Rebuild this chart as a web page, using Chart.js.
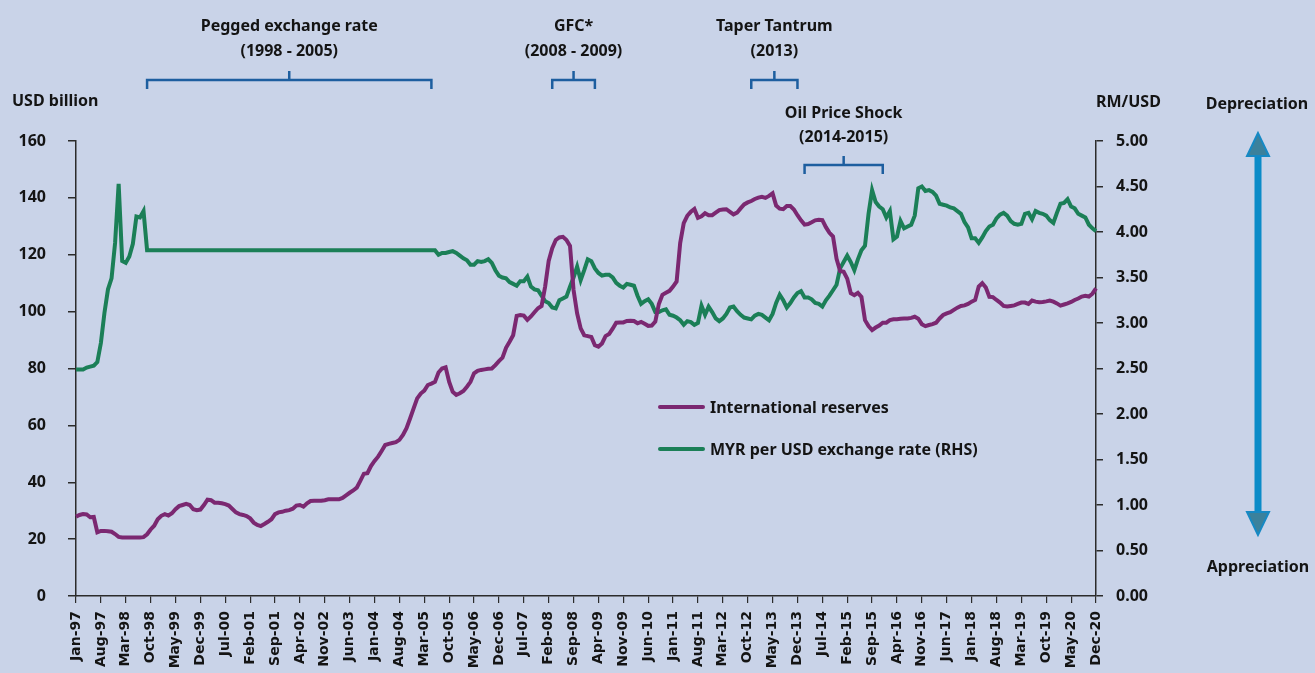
<!DOCTYPE html>
<html lang="en">
<head>
<meta charset="UTF-8">
<title>International reserves and MYR per USD</title>
<style>
    body {
        margin: 0;
        background: #c9d3e8;
        font-family: 'Noto Sans', sans-serif;
        color: #141414;
    }
    .wrap {
        position: relative;
        width: 1315px;
        height: 673px;
        overflow: hidden;
    }
    canvas {
        position: absolute;
        left: 0;
        top: 0;
    }
    .txt {
        position: absolute;
        font-weight: 700;
        font-size: 16px;
        white-space: nowrap;
        line-height: 24px;
    }
    .note {
        transform: translateX(-50%);
        text-align: center;
        line-height: 25px;
    }
    #legend {
        position: absolute;
        left: 658px;
        top: 386px;
    }
    #legend .row {
        display: flex;
        align-items: center;
        height: 42px;
        font-weight: 700;
        font-size: 16px;
    }
    #legend .swatch {
        width: 47px;
        height: 4.5px;
        border-radius: 2px;
        margin-right: 5px;
    }
</style>
</head>
<body>
<div class="wrap">
    <canvas id="chart" width="1315" height="673"></canvas>

    <div class="txt" style="left:12px; top:88px;">USD billion</div>
    <div class="txt" style="left:1096px; top:89px;">RM/USD</div>
    <div class="txt note" style="left:1257px; top:91px;">Depreciation</div>
    <div class="txt note" style="left:1258px; top:554px;">Appreciation</div>

    <div class="txt note" id="note0" style="top:13px;">Pegged exchange rate<br>(1998 - 2005)</div>
    <div class="txt note" id="note1" style="top:13px;">GFC*<br>(2008 - 2009)</div>
    <div class="txt note" id="note2" style="top:13px;">Taper Tantrum<br>(2013)</div>
    <div class="txt note" id="note3" style="top:100px; line-height:24px;">Oil Price Shock<br>(2014-2015)</div>

    <svg style="position:absolute; left:1240px; top:128px;" width="36" height="412">
        <line x1="18" y1="26" x2="18" y2="386" stroke="#0b8bc8" stroke-width="7"/>
        <polygon points="18,5 7,28 29,28" fill="#3b819c" stroke="#1689c4" stroke-width="2"/>
        <polygon points="18,407 7,384 29,384" fill="#3b819c" stroke="#1689c4" stroke-width="2"/>
    </svg>

    <div id="legend"></div>
</div>

<script src="https://cdn.jsdelivr.net/npm/chart.js"></script>
<script>
    // months Jan-97 .. Dec-20
    const monthNames = ['Jan', 'Feb', 'Mar', 'Apr', 'May', 'Jun', 'Jul', 'Aug', 'Sep', 'Oct', 'Nov', 'Dec'];
    const years = ['97', '98', '99', '00', '01', '02', '03', '04', '05', '06', '07', '08',
                   '09', '10', '11', '12', '13', '14', '15', '16', '17', '18', '19', '20'];
    const categories = years.flatMap(y => monthNames.map(m => m + '-' + y));

    const tickLabels = ['Jan-97', 'Aug-97', 'Mar-98', 'Oct-98', 'May-99', 'Dec-99', 'Jul-00', 'Feb-01',
        'Sep-01', 'Apr-02', 'Nov-02', 'Jun-03', 'Jan-04', 'Aug-04', 'Mar-05', 'Oct-05', 'May-06',
        'Dec-06', 'Jul-07', 'Feb-08', 'Sep-08', 'Apr-09', 'Nov-09', 'Jun-10', 'Jan-11', 'Aug-11',
        'Mar-12', 'Oct-12', 'May-13', 'Dec-13', 'Jul-14', 'Feb-15', 'Sep-15', 'Apr-16', 'Nov-16',
        'Jun-17', 'Jan-18', 'Aug-18', 'Mar-19', 'Oct-19', 'May-20', 'Dec-20'];

    // International reserves, USD billion (one row per year)
    const reserves = [
        27.9, 28.5, 28.8, 28.7, 27.7, 27.8, 22.4, 22.9, 22.9, 22.8, 22.6, 21.8,
        20.8, 20.6, 20.6, 20.6, 20.6, 20.6, 20.6, 20.7, 21.7, 23.4, 24.7, 27.0,
        28.2, 28.8, 28.3, 29.1, 30.5, 31.6, 32.0, 32.4, 32.0, 30.5, 30.2, 30.4,
        32.0, 33.9, 33.7, 32.8, 32.8, 32.6, 32.3, 31.8, 30.6, 29.4, 28.8, 28.5,
        28.1, 27.3, 25.8, 25.0, 24.6, 25.3, 26.1, 27.0, 28.8, 29.4, 29.6, 30.0,
        30.2, 30.7, 31.8, 32.0, 31.4, 32.6, 33.4, 33.5, 33.5, 33.5, 33.7, 34.0,
        34.0, 34.0, 34.0, 34.5, 35.4, 36.3, 37.1, 38.1, 40.5, 43.0, 43.2, 45.7,
        47.5, 49.0, 51.0, 53.1, 53.5, 53.8, 54.1, 54.9, 56.6, 59.0, 62.4, 66.0,
        69.5, 71.2, 72.2, 74.2, 74.7, 75.3, 78.6, 80.0, 80.4, 75.3, 71.8, 70.7,
        71.3, 72.1, 73.6, 75.3, 78.3, 79.2, 79.5, 79.7, 79.9, 80.0, 81.2, 82.6,
        83.8, 87.3, 89.4, 91.7, 98.5, 98.8, 98.6, 97.1, 98.3, 99.8, 101.2, 102.0,
        108.8, 117.8, 122.3, 125.2, 126.1, 126.3, 125.2, 123.1, 107.6, 99.4, 94.1, 91.7,
        91.4, 91.1, 88.2, 87.7, 88.8, 91.4, 92.1, 94.0, 96.1, 96.2, 96.2, 96.7,
        96.8, 96.7, 95.9, 96.4, 95.7, 95.0, 95.1, 96.5, 102.7, 105.9, 106.6, 107.3,
        108.8, 110.6, 124.1, 131.1, 133.7, 135.1, 136.1, 133.0, 133.5, 134.6, 133.9, 133.9,
        134.8, 135.7, 135.9, 136.0, 135.1, 134.2, 134.8, 136.3, 137.7, 138.4, 138.9, 139.6,
        140.1, 140.4, 140.0, 140.7, 141.6, 137.3, 136.2, 136.0, 137.1, 137.1, 135.9, 133.9,
        132.1, 130.6, 130.8, 131.4, 132.1, 132.3, 132.2, 129.7, 127.7, 126.4, 118.6, 114.3,
        114.0, 111.6, 106.5, 105.8, 106.6, 105.2, 97.0, 94.9, 93.5, 94.4, 95.1, 96.1,
        96.1, 97.0, 97.3, 97.3, 97.5, 97.6, 97.6, 97.8, 98.2, 97.5, 95.6, 94.9,
        95.3, 95.6, 96.1, 97.6, 98.8, 99.4, 99.8, 100.6, 101.4, 102.0, 102.2, 102.7,
        103.5, 104.1, 108.8, 110.0, 108.5, 105.2, 105.1, 104.1, 103.2, 102.0, 101.8, 102.0,
        102.2, 102.7, 103.2, 103.2, 102.7, 103.9, 103.5, 103.3, 103.4, 103.6, 103.9, 103.5,
        102.9, 102.1, 102.5, 102.9, 103.4, 104.1, 104.6, 105.3, 105.6, 105.3, 106.3, 108.2
    ];

    // MYR per USD (one row per year)
    const myrUsd = [
        2.49, 2.49, 2.49, 2.51, 2.52, 2.53, 2.57, 2.78, 3.11, 3.37, 3.49, 3.88,
        4.53, 3.68, 3.66, 3.73, 3.87, 4.17, 4.16, 4.23, 3.80, 3.80, 3.80, 3.80,
        3.80, 3.80, 3.80, 3.80, 3.80, 3.80, 3.80, 3.80, 3.80, 3.80, 3.80, 3.80,
        3.80, 3.80, 3.80, 3.80, 3.80, 3.80, 3.80, 3.80, 3.80, 3.80, 3.80, 3.80,
        3.80, 3.80, 3.80, 3.80, 3.80, 3.80, 3.80, 3.80, 3.80, 3.80, 3.80, 3.80,
        3.80, 3.80, 3.80, 3.80, 3.80, 3.80, 3.80, 3.80, 3.80, 3.80, 3.80, 3.80,
        3.80, 3.80, 3.80, 3.80, 3.80, 3.80, 3.80, 3.80, 3.80, 3.80, 3.80, 3.80,
        3.80, 3.80, 3.80, 3.80, 3.80, 3.80, 3.80, 3.80, 3.80, 3.80, 3.80, 3.80,
        3.80, 3.80, 3.80, 3.80, 3.80, 3.80, 3.75, 3.77, 3.77, 3.78, 3.79, 3.77,
        3.74, 3.71, 3.69, 3.64, 3.64, 3.68, 3.67, 3.68, 3.70, 3.66, 3.58, 3.52,
        3.50, 3.49, 3.45, 3.43, 3.41, 3.46, 3.46, 3.51, 3.40, 3.37, 3.36, 3.30,
        3.24, 3.22, 3.17, 3.16, 3.25, 3.27, 3.29, 3.40, 3.50, 3.62, 3.47, 3.58,
        3.70, 3.68, 3.60, 3.55, 3.52, 3.53, 3.53, 3.50, 3.44, 3.41, 3.39, 3.43,
        3.42, 3.41, 3.30, 3.21, 3.24, 3.26, 3.21, 3.12, 3.12, 3.14, 3.15, 3.09,
        3.08, 3.06, 3.03, 2.98, 3.02, 3.01, 2.98, 3.00, 3.19, 3.09, 3.18, 3.12,
        3.05, 3.02, 3.05, 3.10, 3.17, 3.18, 3.13, 3.09, 3.06, 3.05, 3.04, 3.08,
        3.10, 3.09, 3.06, 3.03, 3.10, 3.22, 3.31, 3.25, 3.17, 3.22, 3.28, 3.33,
        3.35, 3.28, 3.28, 3.26, 3.22, 3.21, 3.18, 3.25, 3.30, 3.36, 3.42, 3.60,
        3.67, 3.74, 3.67, 3.58, 3.70, 3.80, 3.85, 4.20, 4.46, 4.33, 4.28, 4.25,
        4.16, 4.23, 3.92, 3.95, 4.12, 4.04, 4.06, 4.08, 4.18, 4.48, 4.50, 4.45,
        4.46, 4.44, 4.40, 4.31, 4.30, 4.29, 4.27, 4.26, 4.23, 4.20, 4.11, 4.05,
        3.93, 3.93, 3.88, 3.94, 4.01, 4.06, 4.08, 4.15, 4.19, 4.21, 4.18, 4.12,
        4.09, 4.08, 4.09, 4.20, 4.21, 4.14, 4.23, 4.21, 4.20, 4.18, 4.13, 4.10,
        4.21, 4.31, 4.32, 4.36, 4.28, 4.26, 4.20, 4.18, 4.16, 4.08, 4.04, 4.01
    ];

    // period brackets above the plot (month from / to)
    const periods = [
        { from: 'Sep-98', to: 'May-05', y: 80, note: 'note0' },
        { from: 'Mar-08', to: 'Mar-09', y: 80, note: 'note1' },
        { from: 'Nov-12', to: 'Dec-13', y: 80, note: 'note2' },
        { from: 'Feb-14', to: 'Dec-15', y: 165, note: 'note3' }
    ];

    const purple = '#7b2871';
    const green = '#1b7f57';
    const axisColor = '#2b2b2b';
    const tickFont = { family: 'Noto Sans', size: 16, weight: 'bold' };

    const bracketPlugin = {
        id: 'brackets',
        afterDraw(chart) {
            const ctx = chart.ctx;
            const x = chart.scales.x;
            ctx.save();
            ctx.strokeStyle = '#1d5e9f';
            ctx.lineWidth = 2.5;
            periods.forEach(p => {
                const x0 = x.getPixelForValue(categories.indexOf(p.from));
                const x1 = x.getPixelForValue(categories.indexOf(p.to));
                const xm = (x0 + x1) / 2;
                ctx.beginPath();
                ctx.moveTo(x0, p.y + 9);
                ctx.lineTo(x0, p.y);
                ctx.lineTo(x1, p.y);
                ctx.lineTo(x1, p.y + 9);
                ctx.moveTo(xm, p.y);
                ctx.lineTo(xm, p.y - 9);
                ctx.stroke();
                document.getElementById(p.note).style.left = xm + 'px';
            });
            ctx.restore();
        }
    };

    const ctx = document.getElementById('chart').getContext('2d');
    const chart = new Chart(ctx, {
        type: 'line',
        data: {
            labels: categories,
            datasets: [{
                label: 'International reserves',
                data: reserves,
                borderColor: purple,
                backgroundColor: purple,
                borderWidth: 4,
                pointRadius: 0,
                yAxisID: 'y'
            }, {
                label: 'MYR per USD exchange rate (RHS)',
                data: myrUsd,
                borderColor: green,
                backgroundColor: green,
                borderWidth: 4,
                pointRadius: 0,
                yAxisID: 'y1'
            }]
        },
        options: {
            responsive: false,
            animation: false,
            layout: { padding: { top: 141 } },
            plugins: {
                legend: { display: false },
                tooltip: { enabled: false }
            },
            scales: {
                x: {
                    offset: false,
                    afterFit: s => { s.height = 77; },
                    border: { color: axisColor, width: 1.5 },
                    grid: { drawOnChartArea: false, color: axisColor, tickLength: 7, lineWidth: 1.2 },
                    ticks: {
                        autoSkip: false,
                        maxRotation: 90,
                        minRotation: 90,
                        padding: 8,
                        color: '#141414',
                        font: { family: 'DejaVu Sans', size: 14, weight: 'bold' },
                        callback: function (v, i) {
                            const lab = categories[i];
                            return tickLabels.includes(lab) ? lab : null;
                        }
                    }
                },
                y: {
                    position: 'left',
                    min: 0,
                    max: 160,
                    afterFit: s => { s.width = 76; },
                    border: { color: axisColor, width: 1.5 },
                    grid: { drawOnChartArea: false, color: axisColor, tickLength: 8, lineWidth: 1.5 },
                    ticks: { stepSize: 20, padding: 22, color: '#141414', font: tickFont }
                },
                y1: {
                    position: 'right',
                    min: 0,
                    max: 5,
                    afterFit: s => { s.width = 219; },
                    border: { color: axisColor, width: 1.5 },
                    grid: { drawOnChartArea: false, color: axisColor, tickLength: 7, lineWidth: 1.5 },
                    ticks: {
                        stepSize: 0.5,
                        padding: 13,
                        color: '#141414',
                        font: tickFont,
                        callback: v => v.toFixed(2)
                    }
                }
            }
        },
        plugins: [bracketPlugin]
    });

    // legend built from the datasets
    const legend = document.getElementById('legend');
    chart.data.datasets.forEach(ds => {
        const row = document.createElement('div');
        row.className = 'row';
        const sw = document.createElement('span');
        sw.className = 'swatch';
        sw.style.background = ds.borderColor;
        row.appendChild(sw);
        row.appendChild(document.createTextNode(ds.label));
        legend.appendChild(row);
    });
</script>
</body>
</html>
